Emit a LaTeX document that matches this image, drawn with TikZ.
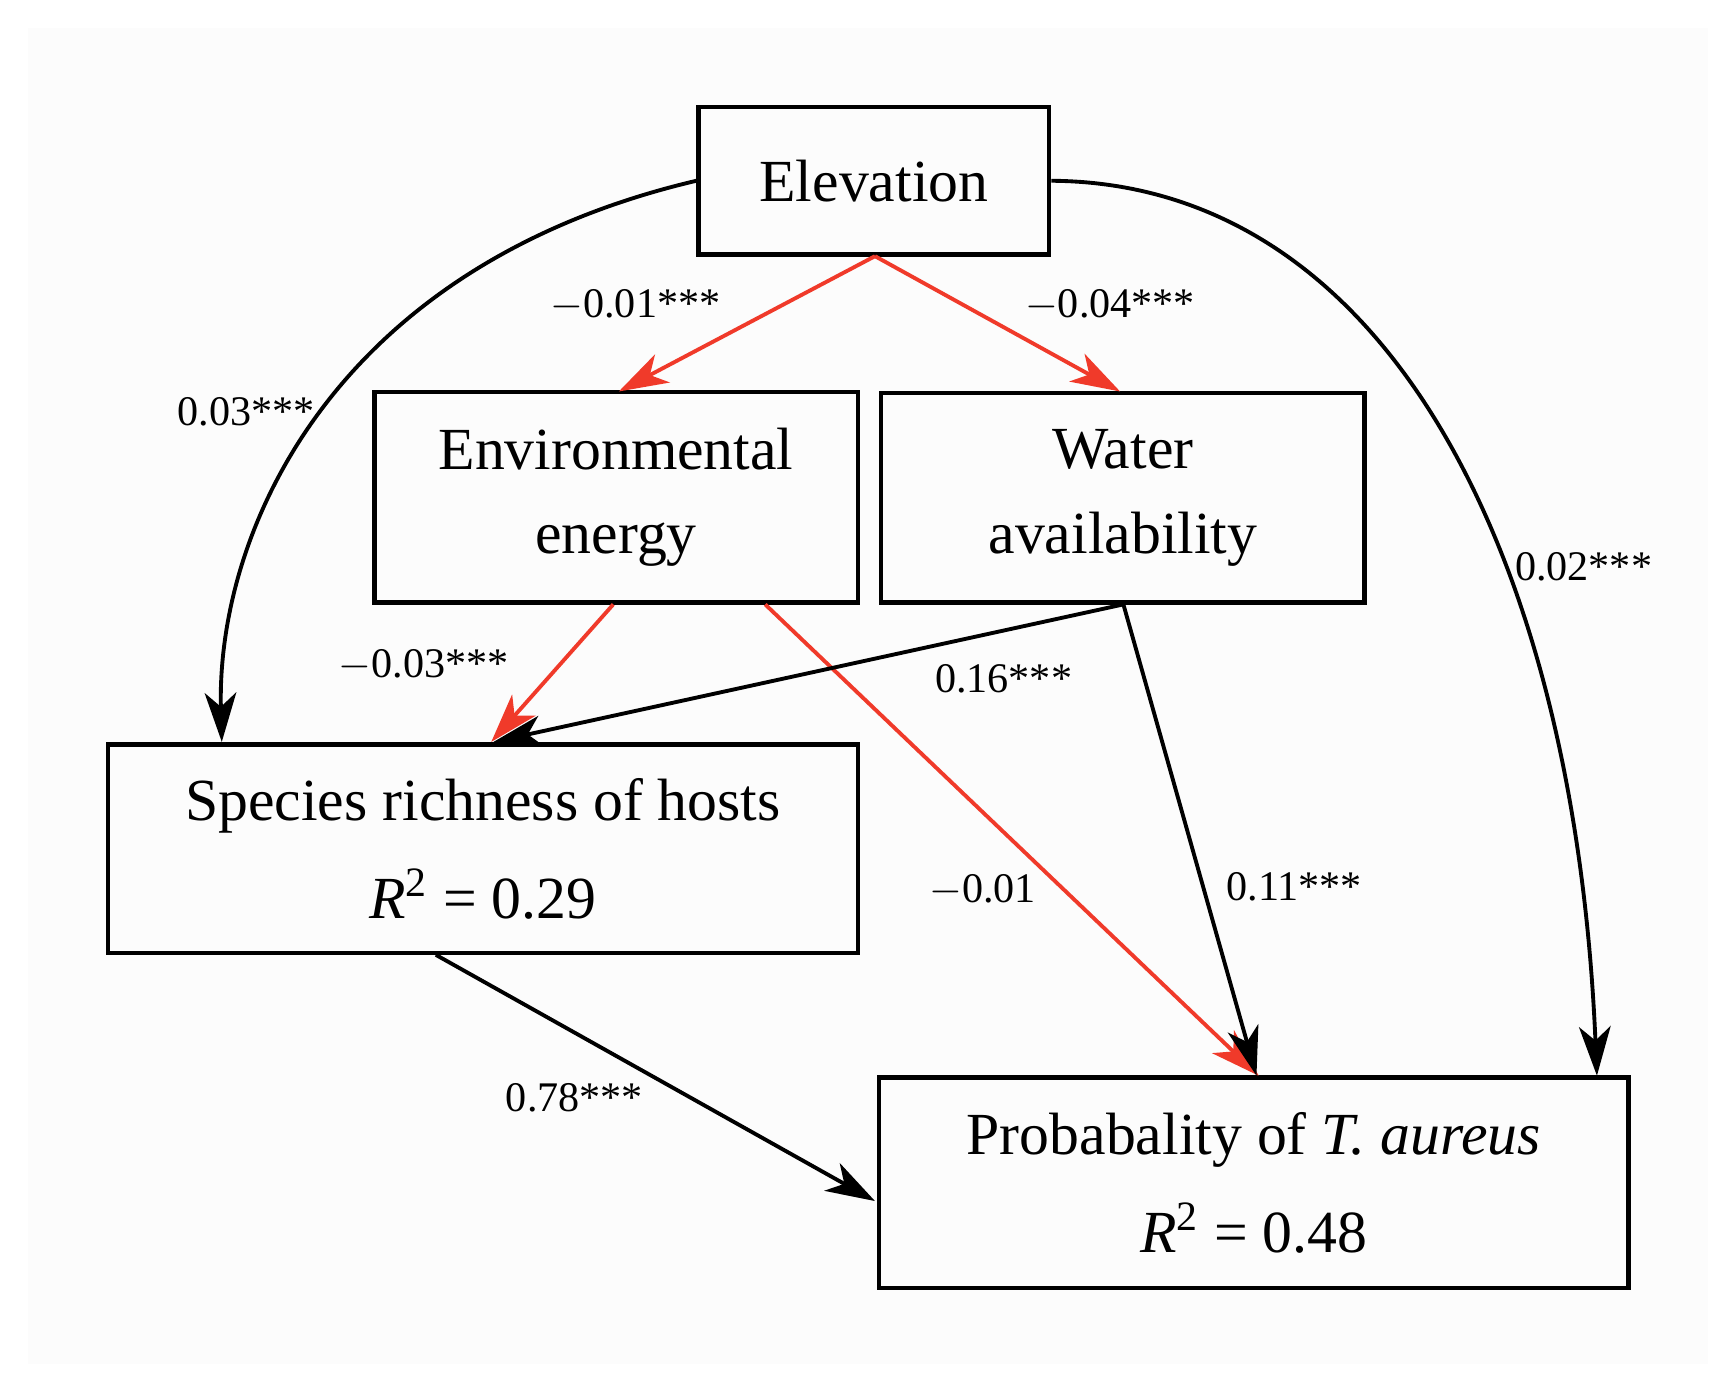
\documentclass[tikz,border=0pt]{standalone}
\usepackage{fontspec}
\setmainfont{Liberation Serif}
\usetikzlibrary{arrows.meta}
\definecolor{redarr}{HTML}{F03A2A}
\begin{document}
\begin{tikzpicture}[x=0.01109cm,y=-0.01109cm,
  box/.style={draw,line width=1.3pt,align=center,font=\fontsize{17}{24}\selectfont,inner sep=0},
  lab/.style={font=\fontsize{12}{14}\selectfont},
  arr/.style={line width=1.1pt,-{Stealth[length=14pt,width=9pt,inset=4pt]}},
  ra/.style={arr,redarr}]
\fill[white] (0,0) rectangle (1560,1245);
\fill[black!1] (25,25) rectangle (1540,1230);
\node[box,minimum width=316*0.01109cm,minimum height=133*0.01109cm] (elev) at (788,163) {Elevation};
\node[box,minimum width=436*0.01109cm,minimum height=190*0.01109cm] (env) at (555.5,448.5) {Environmental\\energy};
\node[box,minimum width=436*0.01109cm,minimum height=189*0.01109cm] (wat) at (1012.5,449) {Water\\availability};
\node[box,minimum width=676*0.01109cm,minimum height=188*0.01109cm,font=\fontsize{17}{28}\selectfont] (spec) at (435.5,765.5) {Species richness of hosts\\\textit{R}\textsuperscript{2} = 0.29};
\node[box,minimum width=676*0.01109cm,minimum height=190*0.01109cm,font=\fontsize{17}{28}\selectfont] (prob) at (1130.5,1066.5) {Probabality of \textit{T. aureus}\\\textit{R}\textsuperscript{2} = 0.48};
\coordinate (eb) at (789,231);
\draw[ra] (eb) -- (558,353);
\draw[ra] (eb) -- (1010,353);
\draw[arr] (elev.west) .. controls (300,240) and (195,480) .. (200,669);
\draw[arr] (elev.east) .. controls (1250,165) and (1420,500) .. (1440,970);
\draw[ra] (553,545) -- (443,669);
\draw[ra] (690,545) -- (1135,970);
\draw[arr] (1013,545) -- (445,669);
\draw[arr] (1013,545) -- (1133,970);
\draw[arr] (393,861) -- (789,1083);
\node[lab] (l1) at (573,275) {$-$0.01***};
\node[lab] (l2) at (1001,275) {$-$0.04***};
\node[lab] (l3) at (222,371) {0.03***};
\node[lab] (l4) at (1428,511) {0.02***};
\node[lab] (l5) at (382,600) {$-$0.03***};
\node[lab] (l6) at (905,612) {0.16***};
\node[lab] (l7) at (886,803) {$-$0.01};
\node[lab] (l8) at (1167,800) {0.11***};
\node[lab] (l9) at (518,990) {0.78***};
\end{tikzpicture}
\end{document}
